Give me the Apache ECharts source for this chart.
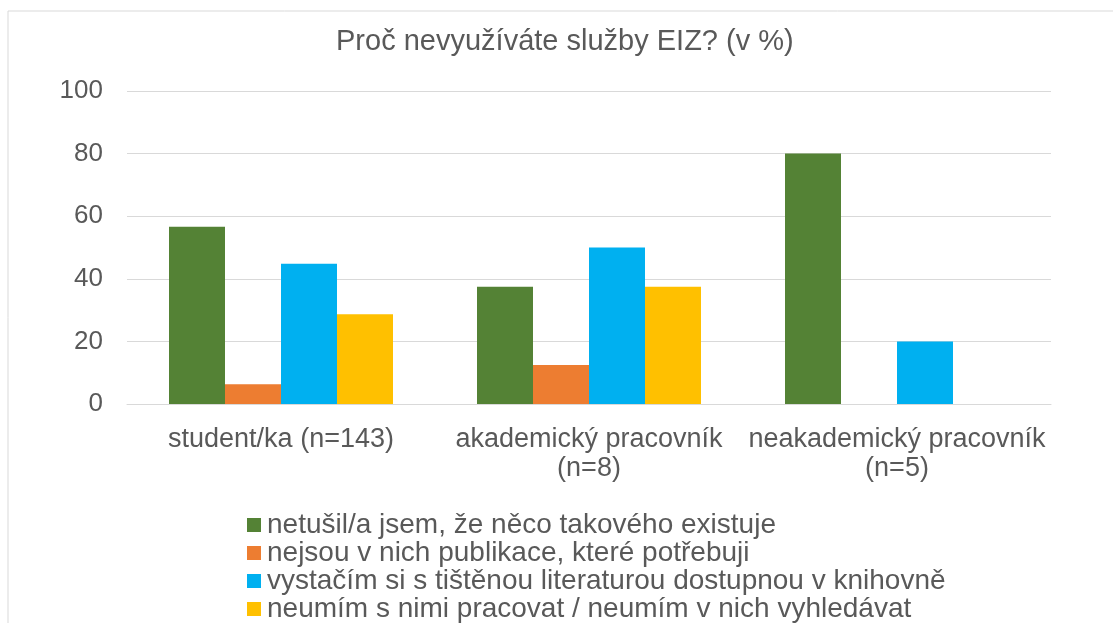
<!DOCTYPE html>
<html>
<head>
<meta charset="utf-8">
<script src="https://cdn.jsdelivr.net/npm/echarts@6/dist/echarts.min.js"></script>
<style>
html,body{margin:0;padding:0;background:#fff;}
#main{width:1113px;height:623px;}
</style>
</head>
<body>
<div id="main"></div>
<script>
// data
var categories=["student/ka (n=143)","akademický pracovník\n(n=8)","neakademický pracovník\n(n=5)"];
var seriesNames=["netušil/a jsem, že něco takového existuje","nejsou v nich publikace, které potřebuji","vystačím si s tištěnou literaturou dostupnou v knihovně","neumím s nimi pracovat / neumím v nich vyhledávat"];
var netusil=[56.6,37.5,80];
var nejsou=[6.3,12.5,0];
var vystacim=[44.8,50,20];
var neumim=[28.7,37.5,0];
var yTicks=[0,20,40,60,80,100];

var colors=["#548235","#ED7D31","#00B0F0","#FFC000"];
var font="'Liberation Sans', Arial, sans-serif";
var txt="#595959";

var allData=[netusil,nejsou,vystacim,neumim];
var series=[];
for(var i=0;i<allData.length;i++){
	series.push({
		name:seriesNames[i],
		type:'bar',
		data:allData[i],
		barWidth:56,
		barGap:'0%',
		itemStyle:{color:colors[i]}
	});
}

var myChart=echarts.init(document.getElementById('main'));
var option={
	animation:false,
	color:colors,
	textStyle:{fontFamily:font},
	graphic:[{
		type:'rect',
		shape:{x:8,y:11,width:1200,height:700},
		style:{fill:null,stroke:'#d9d9d9',lineWidth:1}
	}],
	title:{
		text:'Proč nevyužíváte služby EIZ? (v %)',
		left:331,
		top:22,
		textStyle:{fontFamily:font,fontSize:29,fontWeight:'normal',color:txt}
	},
	legend:{
		orient:'vertical',
		left:247,
		top:511,
		height:120,
		padding:0,
		itemWidth:14,
		itemHeight:14,
		itemGap:0,
		icon:'rect',
		textStyle:{fontFamily:font,fontSize:28,color:txt,lineHeight:28,padding:[0,0,0,1]},
		data:seriesNames
	},
	grid:{left:127,right:62,top:91,bottom:219},
	xAxis:{
		type:'category',
		data:categories,
		axisLine:{lineStyle:{color:'#d9d9d9'}},
		axisTick:{show:false},
		axisLabel:{interval:0,hideOverlap:false,fontFamily:font,fontSize:27,color:txt,lineHeight:29,margin:21}
	},
	yAxis:{
		type:'value',
		min:yTicks[0],
		max:yTicks[yTicks.length-1],
		interval:20,
		axisLine:{show:false},
		axisTick:{show:false},
		splitLine:{lineStyle:{color:'#d9d9d9'}},
		axisLabel:{fontFamily:font,fontSize:26,color:txt,margin:24}
	},
	series:series
};
myChart.setOption(option);
</script>
</body>
</html>
